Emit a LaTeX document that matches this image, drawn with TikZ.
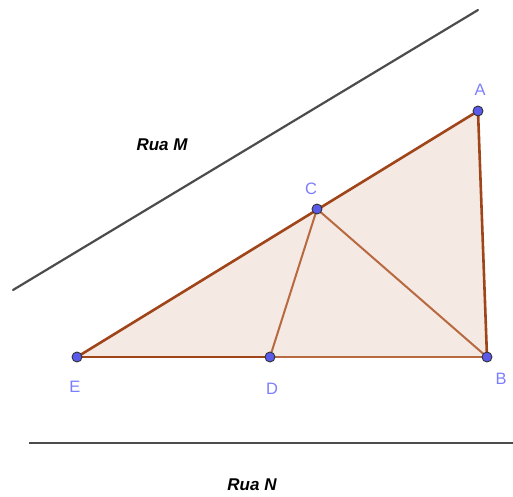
\documentclass[tikz,border=0pt]{standalone}
\usepackage{fontspec}
\setmainfont{Liberation Sans}
\usetikzlibrary{positioning}
\definecolor{edgebrown}{RGB}{160,68,26}
\definecolor{edgelight}{RGB}{184,105,64}
\definecolor{areafill}{RGB}{244,233,227}
\definecolor{ptblue}{RGB}{90,90,235}
\definecolor{lblblue}{RGB}{125,125,255}
\tikzset{
  rua/.style={draw=black!70,line width=2.2pt},
  ruatext/.style={font=\fontsize{17}{20}\selectfont\bfseries\itshape},
  sidethick/.style={draw=edgebrown,line width=2.6pt},
  sidethin/.style={draw=edgelight,line width=2pt},
  ptdot/.style={circle,fill=ptblue,draw=black!80,line width=0.9pt,inner sep=0pt,minimum size=10pt},
  ptlbl/.style={text=lblblue,font=\fontsize{16.5}{19}\selectfont}
}
\begin{document}
\begin{tikzpicture}[x=1pt,y=-1pt,line join=round,line cap=round]
  \useasboundingbox (0,0) rectangle (513,496);
  % streets
  \coordinate (m1) at (13,290);
  \coordinate (m2) at (478,10);
  \coordinate (n1) at (29,443);
  \coordinate (n2) at (513,443);
  \draw[rua] (m1) -- (m2);
  \draw[rua,line cap=butt] (n1) -- (n2);
  \node[ruatext] (ruaM) at (162,145) {Rua M};
  \node[ruatext] (ruaN) at (252,485) {Rua N};
  % points
  \coordinate (A) at (478,111);
  \coordinate (B) at (487,357);
  \coordinate (C) at (317,209);
  \coordinate (D) at (270,357);
  \coordinate (E) at (77,357);
  \fill[areafill] (E) -- (A) -- (B) -- cycle;
  \draw[sidethin] (D) -- (B);
  \draw[sidethin] (C) -- (D);
  \draw[sidethin] (C) -- (B);
  \draw[sidethick] (E) -- (A) -- (B);
  \draw[sidethick] (E) -- (D);
  \foreach \p in {A,B,C,D,E}
    \node[ptdot] (dot\p) at (\p) {};
  \node[ptlbl] (lblA) at (480,90) {A};
  \node[ptlbl] (lblB) at (501,379) {B};
  \node[ptlbl] (lblC) at (311,189) {C};
  \node[ptlbl] (lblD) at (272,389) {D};
  \node[ptlbl] (lblE) at (75,387) {E};
\end{tikzpicture}
\end{document}
